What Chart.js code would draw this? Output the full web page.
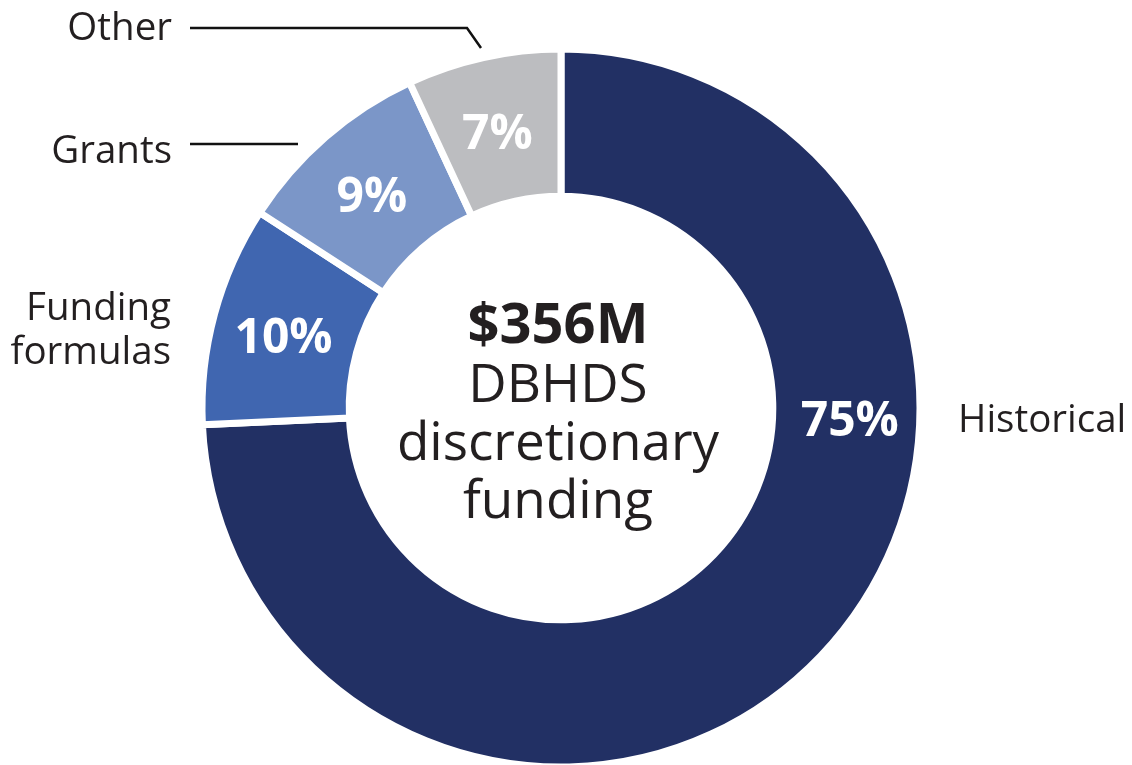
<!DOCTYPE html>
<html>
<head>
<meta charset="utf-8">
<script src="https://cdn.jsdelivr.net/npm/chart.js@4"></script>
<style>
  html, body { margin: 0; padding: 0; background: #ffffff; overflow: hidden; }
  #wrap { width: 1132px; height: 765px; position: relative; }
</style>
</head>
<body>
<div id="wrap"><canvas id="c" width="1132" height="765"></canvas></div>
<script>
const categories = ['Historical', 'Funding formulas', 'Grants', 'Other'];
const shares = [75, 10, 9, 7];
const sliceColors = ['#223064', '#4066b0', '#7b96c8', '#bcbdc0'];
const centerTitle = '$356M';
const centerLines = ['DBHDS', 'discretionary', 'funding'];

const FONT = '"Open Sans", "Noto Sans", sans-serif';
const TEXT = '#231f20';

const labelPlugin = {
  id: 'labels',
  afterDatasetsDraw(chart) {
    const ctx = chart.ctx;
    const meta = chart.getDatasetMeta(0);
    const arcs = meta.data;
    const cx = arcs[0].x, cy = arcs[0].y;
    ctx.save();
    // percentage labels
    ctx.fillStyle = '#ffffff';
    ctx.font = 'bold 48px ' + FONT;
    ctx.textAlign = 'center';
    ctx.textBaseline = 'middle';
    arcs.forEach((arc, i) => {
      let p;
      if (i === 0) {
        const a = -Math.PI / 2 + (92.2 * Math.PI / 180);
        p = { x: cx + 289 * Math.cos(a), y: cy + 289 * Math.sin(a) + 3 };
      } else {
        p = arc.getCenterPoint();
        p = { x: p.x - 2, y: p.y + 6 };
      }
      ctx.fillText(shares[i] + '%', p.x, p.y);
    });

    // center text
    ctx.fillStyle = TEXT;
    ctx.textBaseline = 'alphabetic';
    ctx.font = 'bold 56px ' + FONT;
    ctx.fillText(centerTitle, cx - 3, 343);
    ctx.font = '53px ' + FONT;
    const baselines = [402, 460, 518];
    centerLines.forEach((t, i) => ctx.fillText(t, cx - 3, baselines[i]));

    // category labels
    ctx.font = '38.5px ' + FONT;
    ctx.textAlign = 'left';
    ctx.fillText(categories[0], 958, 432);
    ctx.textAlign = 'right';
    const parts = categories[1].split(' ');
    ctx.fillText(parts[0], 171, 320);
    ctx.fillText(parts[1], 171, 364);
    ctx.fillText(categories[2], 172, 163);
    ctx.fillText(categories[3], 172, 40);

    // leader lines
    ctx.strokeStyle = '#111111';
    ctx.lineWidth = 2.5;
    ctx.beginPath();
    ctx.moveTo(190, 28);
    ctx.lineTo(467, 28);
    ctx.lineTo(481, 48);
    ctx.stroke();
    ctx.beginPath();
    ctx.moveTo(190, 144);
    ctx.lineTo(298, 144);
    ctx.stroke();
    ctx.restore();
  }
};

new Chart(document.getElementById('c'), {
  type: 'doughnut',
  data: {
    labels: categories,
    datasets: [{
      data: shares,
      backgroundColor: sliceColors,
      borderColor: '#ffffff',
      borderWidth: 7,
      hoverOffset: 0
    }]
  },
  options: {
    responsive: false,
    animation: false,
    cutout: '59%',
    radius: 359,
    layout: { padding: { top: 60, bottom: 9, left: 0, right: 10 } },
    plugins: {
      legend: { display: false },
      tooltip: { enabled: false }
    }
  },
  plugins: [labelPlugin]
});
</script>
</body>
</html>
